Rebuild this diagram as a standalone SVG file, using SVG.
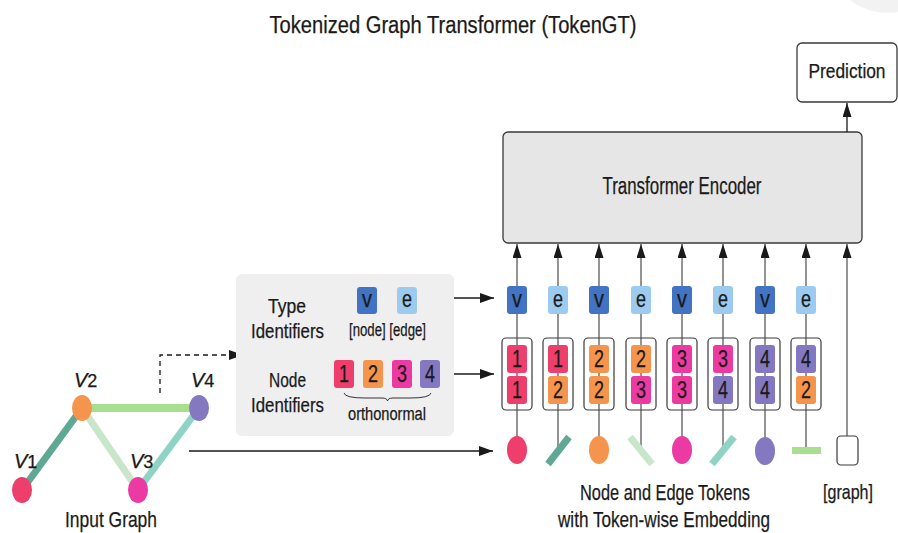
<svg xmlns="http://www.w3.org/2000/svg" width="898" height="533" viewBox="0 0 898 533">
  <defs>
    <marker id="arrow" markerUnits="userSpaceOnUse" markerWidth="14" markerHeight="10" refX="14" refY="5" orient="auto">
      <path d="M0,0 L14,5 L0,10 z" fill="#1a1a1a"/>
    </marker>
    <marker id="arrowUp" markerUnits="userSpaceOnUse" markerWidth="14" markerHeight="9" refX="14" refY="4.5" orient="auto">
      <path d="M0,0 L14,4.5 L0,9 z" fill="#1a1a1a"/>
    </marker>
  </defs>
  <style>
    text { font-family: "Liberation Sans", Arial, sans-serif; fill: #1a1a1a; stroke: #1a1a1a; stroke-width: 0.25; }
    .lbl { font-size: 20px; text-anchor: middle; }
    .tok { font-size: 24px; text-anchor: middle; }
    .v { fill: #4373c3; }
    .e { fill: #9ccbef; }
    .n1 { fill: #ee3e6b; }
    .n2 { fill: #f5944c; }
    .n3 { fill: #ec3aa3; }
    .n4 { fill: #8479c1; }
    .frame { fill: #ffffff; stroke: #3a3a3a; stroke-width: 1.2; }
    .col { stroke: #5a5a5a; stroke-width: 1.3; fill: none; }
    .arr { stroke: #1a1a1a; stroke-width: 1.3; fill: none; }
  </style>

  <rect width="898" height="533" fill="#ffffff"/>
  <!-- faint corner mark -->
  <path d="M850,0 C862,10 882,15 898,12 L898,0 z" fill="#f2f2f2"/>

  <!-- title -->
  <text x="453" y="33" font-size="23" text-anchor="middle" textLength="367" lengthAdjust="spacingAndGlyphs">Tokenized Graph Transformer (TokenGT)</text>

  <!-- prediction -->
  <g id="prediction">
    <rect x="797" y="43" width="100" height="59" rx="5" fill="#ffffff" stroke="#3a3a3a" stroke-width="1.3"/>
    <text x="847" y="78" font-size="20" text-anchor="middle" textLength="77" lengthAdjust="spacingAndGlyphs">Prediction</text>
  </g>

  <!-- transformer encoder -->
  <g id="encoder">
    <rect x="503" y="132" width="359" height="111" rx="5" fill="#e6e6e6" stroke="#3a3a3a" stroke-width="1.3"/>
    <text x="682" y="194" font-size="23" text-anchor="middle" textLength="159" lengthAdjust="spacingAndGlyphs">Transformer Encoder</text>
  </g>

  <!-- connectors -->
  <g id="connectors">
    <line class="arr" x1="847" y1="132" x2="847" y2="103" marker-end="url(#arrowUp)"/>
    <!-- token columns into encoder -->
    <line class="col" x1="517" y1="440" x2="517" y2="244" marker-end="url(#arrowUp)"/>
    <line class="col" x1="558" y1="450" x2="558" y2="244" marker-end="url(#arrowUp)"/>
    <line class="col" x1="599" y1="440" x2="599" y2="244" marker-end="url(#arrowUp)"/>
    <line class="col" x1="641" y1="450" x2="641" y2="244" marker-end="url(#arrowUp)"/>
    <line class="col" x1="682" y1="440" x2="682" y2="244" marker-end="url(#arrowUp)"/>
    <line class="col" x1="723" y1="450" x2="723" y2="244" marker-end="url(#arrowUp)"/>
    <line class="col" x1="765" y1="440" x2="765" y2="244" marker-end="url(#arrowUp)"/>
    <line class="col" x1="806" y1="447" x2="806" y2="244" marker-end="url(#arrowUp)"/>
    <line class="col" x1="847" y1="436" x2="847" y2="244" marker-end="url(#arrowUp)"/>
    <!-- identifiers to tokens -->
    <line class="arr" x1="452" y1="298" x2="494" y2="298" marker-end="url(#arrow)"/>
    <line class="arr" x1="450" y1="374" x2="494" y2="374" marker-end="url(#arrow)"/>
    <line class="arr" x1="189" y1="451" x2="493" y2="451" marker-end="url(#arrow)"/>
    <!-- graph to identifier panel -->
    <path class="arr" d="M160,393 L160,355 L243,355" stroke-dasharray="5,4" marker-end="url(#arrow)"/>
  </g>

  <!-- identifier panel -->
  <g id="identifiers">
    <rect x="236" y="274" width="218" height="162" rx="6" fill="#efefef"/>
    <text class="lbl" x="287" y="313" textLength="38" lengthAdjust="spacingAndGlyphs">Type</text>
    <text class="lbl" x="287.5" y="338" textLength="73" lengthAdjust="spacingAndGlyphs">Identifiers</text>
    <text class="lbl" x="287.5" y="387" textLength="37" lengthAdjust="spacingAndGlyphs">Node</text>
    <text class="lbl" x="287.5" y="412" textLength="73" lengthAdjust="spacingAndGlyphs">Identifiers</text>

    <rect class="v" x="357" y="287" width="20" height="27" rx="3"/>
    <text class="tok" x="367" y="307" textLength="10" lengthAdjust="spacingAndGlyphs">v</text>
    <rect class="e" x="397" y="287" width="20" height="27" rx="3"/>
    <text class="tok" x="407" y="307" textLength="10" lengthAdjust="spacingAndGlyphs">e</text>
    <text x="387.5" y="336" font-size="18" text-anchor="middle" textLength="77" lengthAdjust="spacingAndGlyphs">[node] [edge]</text>

    <rect class="n1" x="334" y="360" width="20" height="28" rx="3"/>
    <text class="tok" x="344" y="382" textLength="10" lengthAdjust="spacingAndGlyphs">1</text>
    <rect class="n2" x="363" y="360" width="20" height="28" rx="3"/>
    <text class="tok" x="373" y="382" textLength="10" lengthAdjust="spacingAndGlyphs">2</text>
    <rect class="n3" x="392" y="360" width="20" height="28" rx="3"/>
    <text class="tok" x="402" y="382" textLength="10" lengthAdjust="spacingAndGlyphs">3</text>
    <rect class="n4" x="420" y="360" width="20" height="28" rx="3"/>
    <text class="tok" x="430" y="382" textLength="10" lengthAdjust="spacingAndGlyphs">4</text>
    <path d="M344,393 Q345,398 365,398 L382,398 Q387,398 387.5,401 Q388,398 393,398 L410,398 Q430,398 431,393" fill="none" stroke="#333" stroke-width="1"/>
    <text x="387" y="420" font-size="18" text-anchor="middle" textLength="78" lengthAdjust="spacingAndGlyphs">orthonormal</text>
  </g>

  <!-- input graph -->
  <g id="input-graph">
    <line x1="22" y1="490" x2="82" y2="408" stroke="#5fa994" stroke-width="7"/>
    <line x1="82" y1="408" x2="199" y2="408" stroke="#a8df8e" stroke-width="8"/>
    <line x1="82" y1="408" x2="138" y2="490" stroke="#c8e6c9" stroke-width="7"/>
    <line x1="138" y1="490" x2="199" y2="408" stroke="#8fd3c4" stroke-width="7"/>
    <g id="v1">
      <ellipse class="n1" cx="22" cy="490" rx="10" ry="13"/>
      <text x="14" y="468" font-size="20"><tspan font-style="italic">V</tspan><tspan font-size="18">1</tspan></text>
    </g>
    <g id="v2">
      <ellipse class="n2" cx="82" cy="408" rx="10" ry="13"/>
      <text x="74" y="387" font-size="20"><tspan font-style="italic">V</tspan><tspan font-size="18">2</tspan></text>
    </g>
    <g id="v3">
      <ellipse class="n3" cx="138" cy="490" rx="10" ry="13"/>
      <text x="130" y="468" font-size="20"><tspan font-style="italic">V</tspan><tspan font-size="18">3</tspan></text>
    </g>
    <g id="v4">
      <ellipse class="n4" cx="199" cy="408" rx="10" ry="13"/>
      <text x="191" y="387" font-size="20"><tspan font-style="italic">V</tspan><tspan font-size="18">4</tspan></text>
    </g>
    <text class="lbl" x="111" y="527" textLength="92" lengthAdjust="spacingAndGlyphs" style="font-size:22px">Input Graph</text>
  </g>

  <!-- tokens: type identifier, node-identifier pair, and the token itself -->
  <g id="token-1">
    <rect class="frame" x="502" y="338" width="30" height="72" rx="4"/>
    <line class="col" x1="517" y1="338" x2="517" y2="410"/>
    <rect class="v" x="507" y="286" width="20" height="28" rx="3"/><text class="tok" x="517" y="307" textLength="10" lengthAdjust="spacingAndGlyphs">v</text>
    <rect class="n1" x="507" y="345" width="20" height="28" rx="3"/><text class="tok" x="517" y="367" textLength="10" lengthAdjust="spacingAndGlyphs">1</text>
    <rect class="n1" x="507" y="376" width="20" height="28" rx="3"/><text class="tok" x="517" y="398" textLength="10" lengthAdjust="spacingAndGlyphs">1</text>
    <ellipse class="n1" cx="517" cy="450" rx="10" ry="14"/>
  </g>
  <g id="token-2">
    <rect class="frame" x="543" y="338" width="30" height="72" rx="4"/>
    <line class="col" x1="558" y1="338" x2="558" y2="410"/>
    <rect class="e" x="548" y="286" width="20" height="28" rx="3"/><text class="tok" x="558" y="307" textLength="10" lengthAdjust="spacingAndGlyphs">e</text>
    <rect class="n1" x="548" y="345" width="20" height="28" rx="3"/><text class="tok" x="558" y="367" textLength="10" lengthAdjust="spacingAndGlyphs">1</text>
    <rect class="n2" x="548" y="376" width="20" height="28" rx="3"/><text class="tok" x="558" y="398" textLength="10" lengthAdjust="spacingAndGlyphs">2</text>
    <line x1="548" y1="464" x2="569" y2="437" stroke="#5fa994" stroke-width="7"/>
  </g>
  <g id="token-3">
    <rect class="frame" x="584" y="338" width="30" height="72" rx="4"/>
    <line class="col" x1="599" y1="338" x2="599" y2="410"/>
    <rect class="v" x="589" y="286" width="20" height="28" rx="3"/><text class="tok" x="599" y="307" textLength="10" lengthAdjust="spacingAndGlyphs">v</text>
    <rect class="n2" x="589" y="345" width="20" height="28" rx="3"/><text class="tok" x="599" y="367" textLength="10" lengthAdjust="spacingAndGlyphs">2</text>
    <rect class="n2" x="589" y="376" width="20" height="28" rx="3"/><text class="tok" x="599" y="398" textLength="10" lengthAdjust="spacingAndGlyphs">2</text>
    <ellipse class="n2" cx="599" cy="450" rx="10" ry="14"/>
  </g>
  <g id="token-4">
    <rect class="frame" x="626" y="338" width="30" height="72" rx="4"/>
    <line class="col" x1="641" y1="338" x2="641" y2="410"/>
    <rect class="e" x="631" y="286" width="20" height="28" rx="3"/><text class="tok" x="641" y="307" textLength="10" lengthAdjust="spacingAndGlyphs">e</text>
    <rect class="n2" x="631" y="345" width="20" height="28" rx="3"/><text class="tok" x="641" y="367" textLength="10" lengthAdjust="spacingAndGlyphs">2</text>
    <rect class="n3" x="631" y="376" width="20" height="28" rx="3"/><text class="tok" x="641" y="398" textLength="10" lengthAdjust="spacingAndGlyphs">3</text>
    <line x1="630" y1="437" x2="652" y2="464" stroke="#c8e6c9" stroke-width="7"/>
  </g>
  <g id="token-5">
    <rect class="frame" x="667" y="338" width="30" height="72" rx="4"/>
    <line class="col" x1="682" y1="338" x2="682" y2="410"/>
    <rect class="v" x="672" y="286" width="20" height="28" rx="3"/><text class="tok" x="682" y="307" textLength="10" lengthAdjust="spacingAndGlyphs">v</text>
    <rect class="n3" x="672" y="345" width="20" height="28" rx="3"/><text class="tok" x="682" y="367" textLength="10" lengthAdjust="spacingAndGlyphs">3</text>
    <rect class="n3" x="672" y="376" width="20" height="28" rx="3"/><text class="tok" x="682" y="398" textLength="10" lengthAdjust="spacingAndGlyphs">3</text>
    <ellipse class="n3" cx="682" cy="450" rx="10" ry="14"/>
  </g>
  <g id="token-6">
    <rect class="frame" x="708" y="338" width="30" height="72" rx="4"/>
    <line class="col" x1="723" y1="338" x2="723" y2="410"/>
    <rect class="e" x="713" y="286" width="20" height="28" rx="3"/><text class="tok" x="723" y="307" textLength="10" lengthAdjust="spacingAndGlyphs">e</text>
    <rect class="n3" x="713" y="345" width="20" height="28" rx="3"/><text class="tok" x="723" y="367" textLength="10" lengthAdjust="spacingAndGlyphs">3</text>
    <rect class="n4" x="713" y="376" width="20" height="28" rx="3"/><text class="tok" x="723" y="398" textLength="10" lengthAdjust="spacingAndGlyphs">4</text>
    <line x1="712" y1="464" x2="734" y2="437" stroke="#8fd3c4" stroke-width="7"/>
  </g>
  <g id="token-7">
    <rect class="frame" x="750" y="338" width="30" height="72" rx="4"/>
    <line class="col" x1="765" y1="338" x2="765" y2="410"/>
    <rect class="v" x="755" y="286" width="20" height="28" rx="3"/><text class="tok" x="765" y="307" textLength="10" lengthAdjust="spacingAndGlyphs">v</text>
    <rect class="n4" x="755" y="345" width="20" height="28" rx="3"/><text class="tok" x="765" y="367" textLength="10" lengthAdjust="spacingAndGlyphs">4</text>
    <rect class="n4" x="755" y="376" width="20" height="28" rx="3"/><text class="tok" x="765" y="398" textLength="10" lengthAdjust="spacingAndGlyphs">4</text>
    <ellipse class="n4" cx="765" cy="451" rx="10" ry="14"/>
  </g>
  <g id="token-8">
    <rect class="frame" x="791" y="338" width="30" height="72" rx="4"/>
    <line class="col" x1="806" y1="338" x2="806" y2="410"/>
    <rect class="e" x="796" y="286" width="20" height="28" rx="3"/><text class="tok" x="806" y="307" textLength="10" lengthAdjust="spacingAndGlyphs">e</text>
    <rect class="n4" x="796" y="345" width="20" height="28" rx="3"/><text class="tok" x="806" y="367" textLength="10" lengthAdjust="spacingAndGlyphs">4</text>
    <rect class="n2" x="796" y="376" width="20" height="28" rx="3"/><text class="tok" x="806" y="398" textLength="10" lengthAdjust="spacingAndGlyphs">2</text>
    <rect x="792" y="447" width="29" height="7" fill="#a8df8e"/>
  </g>
  <g id="token-graph">
    <rect x="837" y="436" width="21" height="29" rx="4" fill="#ffffff" stroke="#3a3a3a" stroke-width="1.2"/>
    <text class="lbl" x="848" y="499" textLength="50" lengthAdjust="spacingAndGlyphs" style="font-size:21px">[graph]</text>
  </g>

  <g id="token-caption">
    <text class="lbl" x="665" y="500" textLength="170" lengthAdjust="spacingAndGlyphs" style="font-size:22px">Node and Edge Tokens</text>
    <text class="lbl" x="664" y="527" textLength="212" lengthAdjust="spacingAndGlyphs" style="font-size:22px">with Token-wise Embedding</text>
  </g>
</svg>
